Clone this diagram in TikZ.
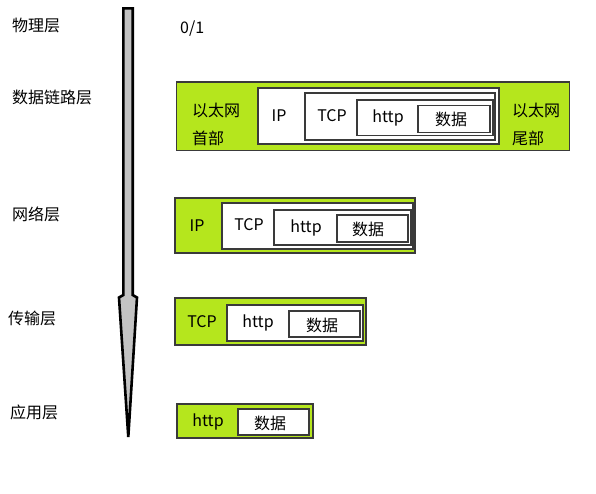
\documentclass[tikz,border=0pt]{standalone}
\usepackage{fontspec}
\setmainfont{Noto Sans CJK SC}
\definecolor{lgreen}{HTML}{B5E61D}
\definecolor{shaftgray}{HTML}{C3C3C3}
\definecolor{edge}{HTML}{3A3A3A}
\begin{document}
\begin{tikzpicture}[x=1pt,y=-1pt,
  every node/.style={font=\fontsize{16}{19}\selectfont, inner sep=0pt},
  gbox/.style={draw=edge, line width=1.1pt, fill=lgreen, rectangle},
  wbox/.style={draw=edge, line width=1.1pt, fill=white, rectangle},
  lbl/.style={text=black}]
\useasboundingbox (0,0) rectangle (596,493);
% arrow
\draw[line width=2.6pt, fill=shaftgray, line join=miter]
  (123.3,8.3) -- (132.7,8.3) -- (132.7,295) -- (137,297.5) -- (128.3,437) -- (119,297.5) -- (123.3,295) -- cycle;
% left labels
\node[lbl, anchor=west] (l1) at (12,25) {物理层};
\node[lbl, anchor=west] (l2) at (12,97) {数据链路层};
\node[lbl, anchor=west] (l3) at (12,214) {网络层};
\node[lbl, anchor=west] (l4) at (8,318) {传输层};
\node[lbl, anchor=west] (l5) at (10,412) {应用层};
\node[lbl, anchor=west] (phy) at (180,29) {0/1};
% data link layer
\node[gbox, minimum width=393pt, minimum height=68.5pt] (dl) at (373,116.25) {};
\node[wbox, minimum width=241pt, minimum height=56pt] (dlip) at (378.5,116) {};
\node[wbox, minimum width=190pt, minimum height=47pt] (dltcp) at (400,116.5) {};
\node[wbox, minimum width=136pt, minimum height=35.5pt] (dlhttp) at (425,117.75) {};
\node[wbox, minimum width=72pt, minimum height=27pt] (dldata) at (454,119.2) {};
\node[lbl] (dlh1) at (216,110) {以太网};
\node[lbl] (dlh2) at (208,138) {首部};
\node[lbl] (dlt1) at (536,110) {以太网};
\node[lbl] (dlt2) at (528,138) {尾部};
\node[lbl] (dlipt) at (279,116) {IP};
\node[lbl] (dltcpt) at (332,116) {TCP};
\node[lbl] (dlhttpt) at (388,118) {http};
\node[lbl] (dldatat) at (451,119) {数据};
% network layer
\node[gbox, minimum width=240pt, minimum height=55pt] (nw) at (295,225.5) {};
\node[wbox, minimum width=191pt, minimum height=46pt] (nwtcp) at (317.5,226) {};
\node[wbox, minimum width=137pt, minimum height=35pt] (nwhttp) at (342.5,227.5) {};
\node[wbox, minimum width=71pt, minimum height=27pt] (nwdata) at (372.5,228.5) {};
\node[lbl] (nwipt) at (197,226) {IP};
\node[lbl] (nwtcpt) at (249,225) {TCP};
\node[lbl] (nwhttpt) at (306,228) {http};
\node[lbl] (nwdatat) at (368,229) {数据};
% transport layer
\node[gbox, minimum width=191pt, minimum height=47pt] (tp) at (270.5,321.5) {};
\node[wbox, minimum width=136pt, minimum height=36pt] (tphttp) at (295,323) {};
\node[wbox, minimum width=71pt, minimum height=26pt] (tpdata) at (324.5,324) {};
\node[lbl] (tptcpt) at (202,322) {TCP};
\node[lbl] (tphttpt) at (258,323) {http};
\node[lbl] (tpdatat) at (322,325) {数据};
% application layer
\node[gbox, minimum width=136pt, minimum height=34pt] (ap) at (245,421) {};
\node[wbox, minimum width=71pt, minimum height=26pt] (apdata) at (273.5,422) {};
\node[lbl] (aphttpt) at (208,422) {http};
\node[lbl] (apdatat) at (270,423) {数据};
\end{tikzpicture}
\end{document}
